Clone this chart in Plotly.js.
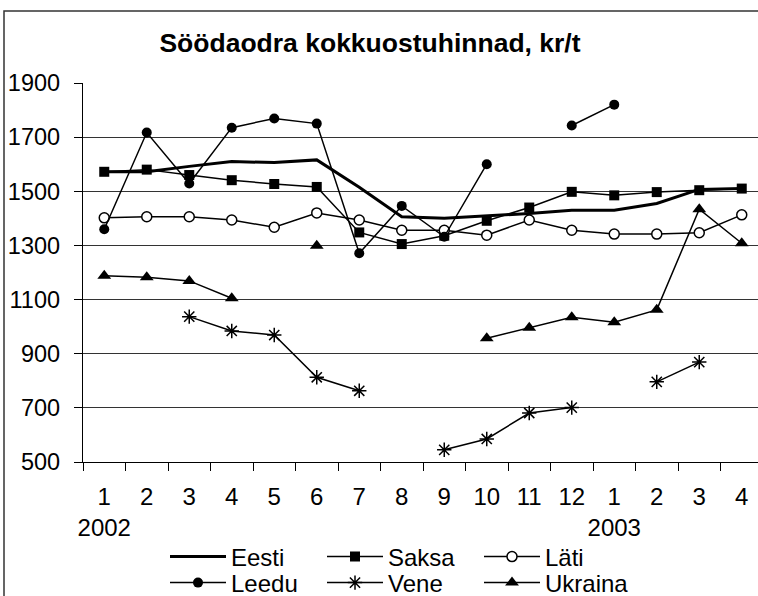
<!DOCTYPE html>
<html>
<head>
<meta charset="utf-8">
<script src="https://cdn.plot.ly/plotly-3.0.1.min.js"></script>
<style>
html,body{margin:0;padding:0;overflow:hidden;background:#fff;}
#chart{width:763px;height:596px;}
</style>
</head>
<body>
<div id="chart"></div>
<script>
// Months Jan 2002 .. Apr 2003
const months = ["1","2","3","4","5","6","7","8","9","10","11","12","1","2","3","4"];
const yearLabels = {0: "2002", 12: "2003"};

const eesti   = [1572,1572,1592,1610,1606,1616,1515,1406,1400,1409,1418,1430,1430,1455,1507,1510];
const saksa   = [1572,1580,1560,1541,1527,1516,1348,1305,1336,1391,1440,1498,1485,1497,1504,1510];
const lati    = [1402,1406,1406,1394,1367,1420,1394,1356,1356,1338,1394,1356,1342,1342,1347,1413];
const leedu   = [1360,1717,1529,1735,1769,1750,1271,1446,1332,1600,null,1743,1820,null,null,null];
const vene    = [null,null,1037,984,969,813,763,null,545,585,681,701,null,796,869,null];
const ukraina = [1188,1182,1169,1105,null,1299,null,null,null,957,996,1035,1016,1062,1434,1308];

const seriesNames = ["Eesti","Saksa","Läti","Leedu","Vene","Ukraina"];

const xs = months.map((m, i) => i);
const tickText = months.map((m, i) => yearLabels[i] ? m + "<br>" + yearLabels[i] : m);

const black = "#000";
const FAM = "Liberation Sans";
const traces = [
  {name: seriesNames[0], y: eesti, mode: "lines", line: {color: black, width: 3}, legend: "legend"},
  {name: seriesNames[1], y: saksa, mode: "lines+markers", line: {color: black, width: 1.5},
   marker: {symbol: "square", size: 10, color: black}, legend: "legend2"},
  {name: seriesNames[2], y: lati, mode: "lines+markers", line: {color: black, width: 1.5},
   marker: {symbol: "circle", size: 10, color: "#fff", line: {color: black, width: 1.5}}, legend: "legend3"},
  {name: seriesNames[3], y: leedu, mode: "lines+markers", line: {color: black, width: 1.5},
   marker: {symbol: "circle", size: 10, color: black}, legend: "legend4"},
  {name: seriesNames[4], y: vene, mode: "lines+markers", line: {color: black, width: 1.5},
   marker: {symbol: "asterisk-open", size: 12, color: black, line: {color: black, width: 1.5}}, legend: "legend5"},
  {name: seriesNames[5], y: ukraina, mode: "lines+markers", line: {color: black, width: 1.5},
   marker: {symbol: "triangle-up", size: 12, color: black}, legend: "legend6"}
].map(t => Object.assign({type: "scatter", x: xs, connectgaps: false}, t));

const plotTop = 83, plotBottom = 462, plotH = 379, plotL = 83, plotW = 680;
const py = px => (plotBottom - px) / plotH;
const pxX = px => (px - plotL) / plotW;

function legendAt(xpx, ypx) {
  return {
    orientation: "h", font: {family: FAM, size: 24, color: black}, bgcolor: "rgba(0,0,0,0)",
    itemwidth: 56, x: pxX(xpx), y: py(ypx),
    xanchor: "left", yanchor: "middle", borderwidth: 0
  };
}
const colX = [165, 322, 479];
const rowY = [557, 583];

const layout = {
  width: 763, height: 596,
  margin: {l: plotL, r: 0, t: plotTop, b: 596 - plotBottom, pad: 0, autoexpand: false},
  paper_bgcolor: "#fff", plot_bgcolor: "#fff",
  font: {family: FAM, size: 24, color: black},
  title: {text: "<b>Söödaodra kokkuostuhinnad, kr/t</b>", font: {family: FAM, size: 26.5, color: black},
          xref: "container", yref: "container", x: 370 / 763, xanchor: "center", y: 1 - 43 / 596, yanchor: "middle"},
  xaxis: {
    range: [-0.5, 15.5], tickmode: "array", tickvals: xs, ticktext: tickText,
    ticks: "outside", ticklen: 0, tickcolor: "rgba(0,0,0,0)", ticklabelstandoff: 13,
    showline: true, linecolor: black, linewidth: 1.2, showgrid: false, zeroline: false,
    tickfont: {family: FAM, size: 24, color: black},
    minor: {tickmode: "linear", tick0: -0.5, dtick: 1, ticks: "outside", ticklen: 8, tickcolor: black, tickwidth: 1, showgrid: false}
  },
  yaxis: {
    range: [500, 1900], tickmode: "linear", tick0: 500, dtick: 200,
    ticks: "outside", ticklen: 8, tickcolor: black, tickwidth: 1, ticklabelstandoff: 9,
    showline: true, linecolor: black, linewidth: 1.2,
    showgrid: true, gridcolor: "#333", gridwidth: 1, zeroline: false,
    tickfont: {family: FAM, size: 23.5, color: black}
  },
  legend:  legendAt(colX[0], rowY[0]),
  legend2: legendAt(colX[1], rowY[0]),
  legend3: legendAt(colX[2], rowY[0]),
  legend4: legendAt(colX[0], rowY[1]),
  legend5: legendAt(colX[1], rowY[1]),
  legend6: legendAt(colX[2], rowY[1]),
  shapes: [{type: "rect", xref: "paper", yref: "paper", x0: pxX(4), x1: 1.2, y0: -0.6, y1: py(11),
            line: {color: "#333", width: 1.5}, fillcolor: "rgba(0,0,0,0)", layer: "below"}],
  showlegend: true
};

Plotly.newPlot("chart", traces, layout, {staticPlot: true, displayModeBar: false});
</script>
</body>
</html>
